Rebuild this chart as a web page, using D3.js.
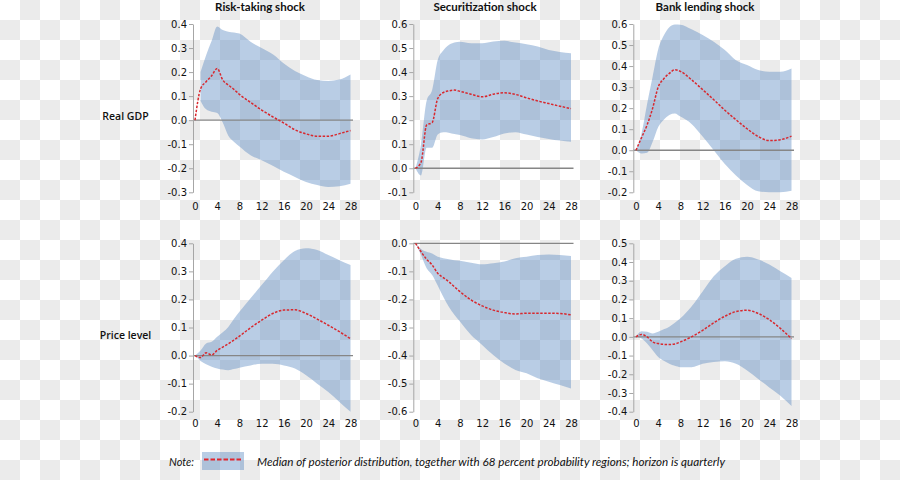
<!DOCTYPE html>
<html><head><meta charset="utf-8">
<script src="https://cdn.jsdelivr.net/npm/d3@7"></script>
<style>body{margin:0;}svg{display:block;}</style>
</head><body><svg id="c" width="900" height="480"></svg>
<script>
const horizons = [0,1,2,3,4,5,6,7,8,10,12,14,16,18,20,22,24,26,28];
const xTicks = [0,4,8,12,16,20,24,28];
const shocks = ["Risk-taking shock","Securitization shock","Bank lending shock"];
const variables = ["Real GDP","Price level"];
const noteLabel = "Note:";
const noteText = "Median of posterior distribution, together with 68 percent probability regions; horizon is quarterly";

// Real GDP
const gdpRiskMedian = [0,0.13,0.16,0.185,0.215,0.167,0.146,0.128,0.107,0.074,0.042,0.014,-0.012,-0.04,-0.057,-0.067,-0.067,-0.056,-0.043];
const gdpRiskUpper  = [null,0.2,0.27,0.33,0.39,0.375,0.368,0.365,0.36,0.326,0.3,0.274,0.236,0.205,0.183,0.167,0.163,0.169,0.19];
const gdpRiskLower  = [null,0.08,0.045,0.035,0.03,-0.01,-0.065,-0.09,-0.11,-0.146,-0.167,-0.19,-0.215,-0.236,-0.257,-0.27,-0.278,-0.275,-0.264];
const gdpSecMedian = [0,0.025,0.18,0.19,0.29,0.315,0.322,0.325,0.32,0.308,0.297,0.308,0.314,0.307,0.293,0.28,0.269,0.258,0.248];
const gdpSecUpper  = [0,0.1,0.28,0.325,0.45,0.49,0.513,0.523,0.526,0.52,0.52,0.527,0.53,0.523,0.516,0.506,0.492,0.484,0.478];
const gdpSecLower  = [0,-0.03,0.085,0.085,0.14,0.15,0.148,0.142,0.138,0.125,0.12,0.13,0.145,0.15,0.14,0.13,0.122,0.115,0.11];
const gdpBankMedian = [0,0.06,0.12,0.2,0.3,0.34,0.365,0.383,0.375,0.335,0.288,0.24,0.19,0.145,0.102,0.065,0.046,0.05,0.067];
const gdpBankUpper  = [0,0.08,0.22,0.35,0.48,0.545,0.585,0.598,0.597,0.575,0.548,0.516,0.476,0.428,0.405,0.381,0.373,0.373,0.389];
const gdpBankLower  = [0,-0.015,-0.012,0.04,0.11,0.145,0.168,0.175,0.16,0.125,0.065,0.0,-0.065,-0.12,-0.165,-0.195,-0.2,-0.2,-0.193];
// Price level
const prRiskMedian = [0,-0.007,0.01,0.002,0.019,0.03,0.042,0.055,0.069,0.099,0.126,0.15,0.162,0.163,0.15,0.13,0.108,0.085,0.06];
const prRiskUpper  = [0,0.018,0.043,0.049,0.067,0.083,0.102,0.13,0.156,0.204,0.251,0.299,0.34,0.373,0.382,0.376,0.358,0.34,0.323];
const prRiskLower  = [0,-0.019,-0.031,-0.04,-0.046,-0.05,-0.052,-0.048,-0.043,-0.035,-0.029,-0.029,-0.035,-0.046,-0.07,-0.1,-0.13,-0.165,-0.2];
const prSecMedian = [0,-0.03,-0.057,-0.077,-0.107,-0.122,-0.137,-0.155,-0.172,-0.202,-0.223,-0.238,-0.247,-0.252,-0.249,-0.249,-0.249,-0.25,-0.255];
const prSecUpper  = [0,-0.02,-0.03,-0.036,-0.048,-0.053,-0.057,-0.06,-0.062,-0.069,-0.075,-0.071,-0.065,-0.053,-0.048,-0.042,-0.04,-0.042,-0.045];
const prSecLower  = [0,-0.042,-0.089,-0.113,-0.15,-0.19,-0.226,-0.255,-0.279,-0.327,-0.362,-0.398,-0.428,-0.451,-0.463,-0.481,-0.493,-0.505,-0.517];
const prBankMedian = [0,0.013,0.0,-0.027,-0.036,-0.04,-0.041,-0.038,-0.027,0.0,0.035,0.075,0.11,0.135,0.142,0.125,0.092,0.045,-0.009];
const prBankUpper  = [0,0.03,0.027,0.018,0.027,0.04,0.054,0.075,0.099,0.162,0.243,0.324,0.378,0.417,0.428,0.414,0.387,0.351,0.315];
const prBankLower  = [0,-0.009,-0.036,-0.072,-0.108,-0.128,-0.144,-0.155,-0.162,-0.162,-0.144,-0.135,-0.13,-0.144,-0.18,-0.225,-0.27,-0.315,-0.369];

const yTicks = [
  [[-0.3,-0.2,-0.1,0,0.1,0.2,0.3,0.4],[-0.1,0,0.1,0.2,0.3,0.4,0.5,0.6],[-0.2,-0.1,0,0.1,0.2,0.3,0.4,0.5,0.6]],
  [[-0.2,-0.1,0,0.1,0.2,0.3,0.4],[-0.6,-0.5,-0.4,-0.3,-0.2,-0.1,0],[-0.4,-0.3,-0.2,-0.1,0,0.1,0.2,0.3,0.4,0.5]]
];
const series = [
  [[gdpRiskMedian,gdpRiskUpper,gdpRiskLower],[gdpSecMedian,gdpSecUpper,gdpSecLower],[gdpBankMedian,gdpBankUpper,gdpBankLower]],
  [[prRiskMedian,prRiskUpper,prRiskLower],[prSecMedian,prSecUpper,prSecLower],[prBankMedian,prBankUpper,prBankLower]]
];

// layout
const cols = [{ax:193,x0:195,x1:350.5,tx:260},{ax:413.3,x0:415.5,x1:571,tx:485},{ax:633.3,x0:636,x1:791.5,tx:705}];
const rows = [{top:24,bottom:192.3,lab:207,ly:116},{top:243.3,bottom:411.7,lab:424,ly:335}];
const bandFill = "rgba(79,129,189,0.4)";
const medColor = "#d8282e";
const font = "Lato, 'Open Sans', sans-serif";
const numFont = "'DejaVu Sans', sans-serif";
const fmt = v => (v < 0 ? "-" : "") + Math.abs(v).toFixed(1);

const svg = d3.select("#c");
const defs = svg.append("defs");
const pat = defs.append("pattern").attr("id","chk").attr("width",40).attr("height",40).attr("patternUnits","userSpaceOnUse");
pat.append("rect").attr("width",40).attr("height",40).attr("fill","#ffffff");
pat.append("rect").attr("x",20).attr("y",0).attr("width",20).attr("height",20).attr("fill","#ebebeb");
pat.append("rect").attr("x",0).attr("y",20).attr("width",20).attr("height",20).attr("fill","#ebebeb");
svg.append("rect").attr("width",900).attr("height",480).attr("fill","url(#chk)");

shocks.forEach((s,ci)=>{
  svg.append("text").attr("x",cols[ci].tx).attr("y",11).attr("text-anchor","middle")
    .attr("font-family",font).attr("font-weight","bold").attr("font-size","11.5px").attr("fill","#111").text(s);
});
variables.forEach((v,ri)=>{
  svg.append("text").attr("x",125.5).attr("y",rows[ri].ly).attr("dy","0.35em").attr("text-anchor","middle")
    .attr("font-family","'Open Sans', Lato, sans-serif").attr("font-weight","600").attr("font-size","10.5px").attr("fill","#111").text(v);
});

rows.forEach((r,ri)=>{
  cols.forEach((c,ci)=>{
    const yt = yTicks[ri][ci];
    const y = d3.scaleLinear().domain([yt[0], yt[yt.length-1]]).range([r.bottom, r.top]);
    const x = d3.scaleLinear().domain([0,28]).range([c.x0, c.x1]);
    const [med, up, lo] = series[ri][ci];
    const g = svg.append("g");
    const pts = horizons.map((h,i)=>({h, m:med[i], u:up[i], l:lo[i]}));
    const area = d3.area().defined(d=>d.u!==null && d.l!==null)
      .x(d=>x(d.h)).y0(d=>y(d.l)).y1(d=>y(d.u)).curve(d3.curveMonotoneX);
    g.append("path").attr("d",area(pts)).attr("fill",bandFill);
    // zero line
    g.append("line").attr("x1",c.ax).attr("x2",c.x1+2.5).attr("y1",y(0)).attr("y2",y(0))
      .attr("stroke","#868686").attr("stroke-width",1.3);
    // y axis
    const ya = g.append("g").attr("transform",`translate(${c.ax},0)`)
      .call(d3.axisLeft(y).tickValues(yt).tickFormat(fmt).tickSize(4).tickSizeOuter(0).tickPadding(2));
    ya.select(".domain").attr("stroke","#a6a6a6");
    ya.selectAll(".tick line").attr("stroke","#a6a6a6");
    ya.selectAll("text").attr("font-family",numFont).attr("font-size","10px").attr("fill","#111");
    // x axis labels
    const xa = g.append("g").attr("transform",`translate(0,${r.lab-4})`)
      .call(d3.axisBottom(x).tickValues(xTicks).tickFormat(d3.format("d")).tickSize(0).tickPadding(0));
    xa.select(".domain").remove();
    xa.selectAll("text").attr("font-family",numFont).attr("font-size","10px").attr("fill","#111");
    // median
    const line = d3.line().x(d=>x(d.h)).y(d=>y(d.m)).curve(d3.curveMonotoneX);
    g.append("path").attr("d",line(pts)).attr("fill","none").attr("stroke",medColor)
      .attr("stroke-width",1.5).attr("stroke-dasharray","2.5,1.5");
  });
});

// note / legend
svg.append("text").attr("x",169).attr("y",465.5).attr("font-family",font).attr("font-style","italic")
  .attr("font-size","11px").attr("fill","#111").text(noteLabel);
svg.append("rect").attr("x",202).attr("y",452).attr("width",42).attr("height",18).attr("fill",bandFill);
svg.append("line").attr("x1",204).attr("x2",243).attr("y1",459.5).attr("y2",459.5)
  .attr("stroke","#e0262e").attr("stroke-width",2).attr("stroke-dasharray","4.5,2");
svg.append("text").attr("x",257).attr("y",465.5).attr("font-family",font).attr("font-style","italic")
  .attr("font-size","11px").attr("fill","#111").attr("textLength",468).attr("lengthAdjust","spacingAndGlyphs").text(noteText);
</script></body></html>
